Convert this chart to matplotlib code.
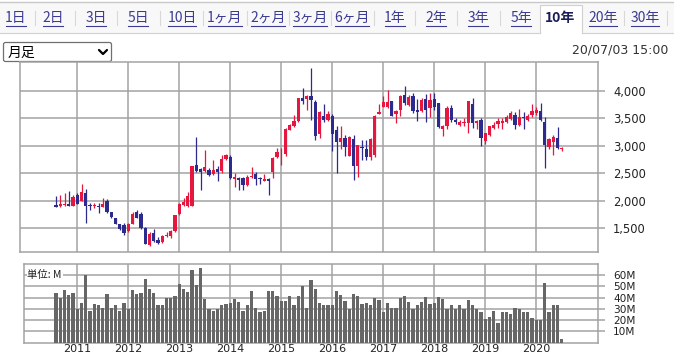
import numpy as np
import matplotlib
matplotlib.use("Agg")
import matplotlib.pyplot as plt
from matplotlib.patches import Rectangle, FancyBboxPatch

plt.rcParams['font.family'] = ['Noto Sans CJK JP', 'DejaVu Sans']

# 月足データ (2010/08 - 2020/07)
opens = [1925, 1896, 1915, 1945, 1910, 2097, 1988, 2146, 1925, 1895,
         1910, 1890, 1988, 1800, 1680, 1570, 1560, 1440, 1580, 1790,
         1750, 1500, 1185, 1410, 1280, 1240, 1350, 1350, 1440, 1750,
         1920, 1895, 1910, 2650, 2570, 2540, 2555, 2485, 2585, 2545,
         2760, 2800, 2400, 2410, 2415, 2290, 2430, 2480, 2415, 2360,
         2400, 2515, 2790, 2880, 2850, 3285, 3355, 3445, 3880, 3850,
         3915, 3805, 3220, 3540, 3475, 3540, 3285, 3065, 3135, 2820,
         3130, 2640, 2975, 2945, 2790, 2825, 3580, 3710, 3715, 3810,
         3575, 3650, 3930, 3740, 3905, 3645, 3630, 3855, 3690, 3860,
         3780, 3305, 3355, 3690, 3475, 3380, 3415, 3415, 3770, 3415,
         3475, 3080, 3205, 3325, 3400, 3415, 3430, 3490, 3570, 3375,
         3525, 3475, 3555, 3600, 3640, 3430, 2975, 3065, 3150, 2945]
highs = [2090, 2103, 2140, 2182, 2100, 2140, 2310, 2219, 1960, 1960,
         1960, 2050, 2030, 1800, 1690, 1575, 1590, 1600, 1790, 1825,
         1800, 1510, 1420, 1490, 1330, 1370, 1420, 1460, 1740, 1950,
         2050, 2150, 2640, 3160, 2600, 2930, 2600, 2750, 2630, 2840,
         2845, 2840, 2500, 2440, 2440, 2475, 2605, 2520, 2440, 2480,
         2410, 2790, 2965, 2960, 3330, 3400, 3560, 3880, 4061, 3930,
         4425, 3830, 3640, 3770, 3635, 3580, 3355, 3355, 3200, 3185,
         3205, 3020, 3110, 3110, 3140, 3560, 3770, 3910, 4025, 3815,
         3650, 3920, 4085, 3930, 3965, 3855, 3870, 3950, 3960, 3965,
         3790, 3380, 3720, 3750, 3510, 3480, 3510, 3825, 3870, 3470,
         3510, 3240, 3370, 3440, 3500, 3510, 3560, 3640, 3610, 3680,
         3620, 3580, 3760, 3700, 3780, 3530, 3150, 3190, 3345, 2970]
lows = [1880, 1884, 1905, 1895, 1900, 1940, 1985, 1586, 1825, 1860,
        1775, 1885, 1780, 1690, 1565, 1460, 1380, 1430, 1570, 1685,
        1490, 1200, 1170, 1250, 1210, 1230, 1340, 1320, 1430, 1740,
        1900, 1880, 1900, 2515, 2200, 2525, 2445, 2460, 2350, 2505,
        2740, 2400, 2250, 2190, 2190, 2260, 2410, 2290, 2300, 2350,
        2100, 2420, 2770, 2645, 2820, 3280, 3345, 3430, 3770, 3650,
        3470, 3100, 3140, 3430, 3460, 2900, 2505, 2940, 2810, 2810,
        2370, 2430, 2750, 2735, 2750, 2800, 3580, 3700, 3690, 3540,
        3410, 3550, 3750, 3730, 3600, 3445, 3620, 3430, 3525, 3660,
        3330, 3180, 3300, 3440, 3400, 3360, 3360, 3240, 3330, 3300,
        3000, 3030, 3180, 3300, 3330, 3300, 3410, 3470, 3300, 3360,
        3300, 3460, 3530, 3570, 3450, 2590, 2950, 2825, 2950, 2900]
closes = [1885, 1933, 1940, 1910, 2060, 1945, 2158, 1896, 1900, 1915,
          1890, 1945, 1787, 1695, 1570, 1483, 1410, 1580, 1763, 1690,
          1495, 1210, 1400, 1270, 1225, 1355, 1370, 1450, 1733, 1940,
          1980, 2080, 2625, 2545, 2520, 2605, 2475, 2565, 2515, 2760,
          2835, 2405, 2425, 2370, 2290, 2430, 2455, 2395, 2395, 2400,
          2360, 2780, 2890, 2895, 3315, 3380, 3460, 3870, 3810, 3915,
          3830, 3185, 3610, 3465, 3585, 3220, 3065, 3140, 2980, 3165,
          2625, 3020, 2960, 2790, 3130, 3550, 3620, 3800, 3800, 3540,
          3640, 3900, 3775, 3885, 3630, 3615, 3840, 3650, 3830, 3700,
          3335, 3370, 3690, 3465, 3440, 3430, 3440, 3810, 3415, 3460,
          3135, 3235, 3355, 3385, 3445, 3460, 3520, 3600, 3375, 3525,
          3505, 3550, 3630, 3660, 3475, 3020, 3130, 3165, 2955, 2965]
# 出来高 (M)
volumes = [44, 40, 47, 42, 44, 30, 35, 60, 28.5, 34.5,
           33, 31, 43.5, 31, 33.5, 28.5, 35.5, 30, 47, 43.5,
           44, 57, 48, 44, 33, 33, 40, 40, 41.5, 52,
           48, 45, 65, 51.5, 66, 39, 30, 28.5, 30, 33.5,
           34.5, 35.5, 39, 36.5, 28.5, 33.5, 46, 31, 27.5, 28.5,
           46, 46, 41.5, 37, 37, 41.5, 33.5, 41.5, 50.5, 31,
           56, 48, 35.5, 33, 33, 33.5, 46, 42.5, 37, 29.5,
           43.5, 41.5, 34.5, 35.5, 33.5, 40, 38, 27.5, 35.5, 31,
           31, 40, 41.5, 36.5, 30, 33, 36.5, 41, 34.5, 35.5,
           41, 39, 30, 33.5, 30, 33, 29.5, 38, 33, 30,
           27.5, 21, 22.5, 28.5, 17.5, 27.5, 27.5, 25, 31, 29.5,
           27.5, 27, 21.5, 20, 20, 53, 27.5, 33, 33.5, 3.3]

years = ['2011', '2012', '2013', '2014', '2015', '2016', '2017', '2018', '2019', '2020']
year_idx = [5, 17, 29, 41, 53, 65, 77, 89, 101, 113]

price_ticks = [1500, 2000, 2500, 3000, 3500, 4000]
price_labels = ['1,500', '2,000', '2,500', '3,000', '3,500', '4,000']
vol_ticks = [10, 20, 30, 40, 50, 60]
vol_labels = ['10M', '20M', '30M', '40M', '50M', '60M']

tabs = ['1日', '2日', '3日', '5日', '10日', '1ヶ月', '2ヶ月', '3ヶ月', '6ヶ月',
        '1年', '2年', '3年', '5年', '10年', '20年', '30年']
tab_x = [16, 53, 96, 138, 182, 225, 268, 310, 352, 395, 436, 478, 521, 560, 603, 645]
sep_x = [35, 75, 117, 160, 203, 247, 289, 331, 374, 415, 457, 500, 624, 667]

W, H = 674, 357
RED = '#e5173f'
BLUE = '#2c2a8c'
GRID = '#a3a3a3'

fig = plt.figure(figsize=(W / 100, H / 100), dpi=100)
fig.patch.set_facecolor('white')


def px_axes(x0, y0, x1, y1):
    return fig.add_axes([x0 / W, 1 - y1 / H, (x1 - x0) / W, (y1 - y0) / H])


# UI overlay (pixel coordinates)
ui = fig.add_axes([0, 0, 1, 1], zorder=0)
ui.set_xlim(0, W)
ui.set_ylim(H, 0)
ui.axis('off')

ui.add_patch(Rectangle((0, 2), W, 31, facecolor='#f8f8f8', edgecolor='none'))
ui.plot([0, W], [1.5, 1.5], color='#c8c8c8', lw=1)
ui.plot([0, 540], [33, 33], color='#d0d0d0', lw=0.8)
ui.plot([582, W], [33, 33], color='#d0d0d0', lw=0.8)
ui.add_patch(Rectangle((540, 5), 42, 29, facecolor='white', edgecolor='none'))
ui.plot([540, 540, 582, 582], [33, 5, 5, 33], color='#d0d0d0', lw=0.8)
for sx in sep_x:
    ui.plot([sx, sx], [11, 25], color='#d8d8d8', lw=0.8)

tab_texts = []
for lbl, tx in zip(tabs, tab_x):
    if lbl == '10年':
        ui.text(tx, 18, lbl, ha='center', va='center', fontsize=10,
                color='#1c1c5a', fontweight='bold')
    else:
        t = ui.text(tx, 18, lbl, ha='center', va='center', fontsize=10,
                    color='#3b3b94')
        tab_texts.append(t)

# dropdown
ui.add_patch(FancyBboxPatch((3.5, 42.5), 108, 19, boxstyle='round,pad=0,rounding_size=2',
                            facecolor='white', edgecolor='#6f6f6f', lw=0.9))
ui.text(8, 52.5, '月足', ha='left', va='center', fontsize=10, color='black')
ui.plot([99, 103, 107], [50, 54, 50], color='black', lw=1.6, solid_capstyle='round')
ui.text(668, 50, '20/07/03 15:00', ha='right', va='center', fontsize=9,
        color='#333333', family='DejaVu Sans')

# price chart
ax = px_axes(20, 62, 598, 252)
x = np.arange(len(opens))
ax.set_xlim(-(56 - 20) / 4.25, -(56 - 20) / 4.25 + 578 / 4.25)
ax.set_ylim(1063, 4529)
for i in x:
    o, h, l, c = opens[i], highs[i], lows[i], closes[i]
    col = RED if c >= o else BLUE
    ax.vlines(i, l, h, color=col, lw=0.9, zorder=3)
    hgt = max(abs(c - o), 14)
    bot = min(o, c) if abs(c - o) >= 14 else (o + c) / 2 - 7
    ax.bar(i, hgt, bottom=bot, width=0.8, color=col, zorder=4, linewidth=0)
ax.set_xticks(year_idx)
ax.set_xticklabels([])
ax.tick_params(axis='x', length=0)
ax.set_yticks(price_ticks)
ax.set_yticklabels(price_labels, family='DejaVu Sans')
ax.yaxis.tick_right()
ax.tick_params(axis='y', length=5, width=1.1, color=GRID, pad=6, labelsize=8.3,
               labelcolor='#222222')
ax.grid(True, color=GRID, lw=1.1)
ax.set_axisbelow(True)
for s in ax.spines.values():
    s.set_color(GRID)
    s.set_linewidth(1.1)

# volume chart
av = px_axes(24, 264, 598, 342.5)
av.set_xlim(-(56 - 24) / 4.25, -(56 - 24) / 4.25 + 574 / 4.25)
av.set_ylim(0, 70)
av.bar(x, volumes, width=0.8, color='#666666', linewidth=0, zorder=3)
av.set_xticks(year_idx)
av.set_xticklabels(years, family='DejaVu Sans')
av.tick_params(axis='x', length=0, pad=1, labelsize=8, labelcolor='#222222')
av.set_yticks(vol_ticks)
av.set_yticklabels(vol_labels, family='DejaVu Sans')
av.yaxis.tick_right()
av.tick_params(axis='y', length=5, width=1.1, color=GRID, pad=6, labelsize=7.6,
               labelcolor='#222222')
av.grid(True, color=GRID, lw=1.1)
av.set_axisbelow(True)
for s in av.spines.values():
    s.set_color(GRID)
    s.set_linewidth(1.1)
av.text(0.006, 0.93, '単位: M', transform=av.transAxes, ha='left', va='top',
        fontsize=7.5, color='#222222', zorder=5,
        bbox=dict(facecolor='white', edgecolor='none', pad=0.5))

# underline the tab links
fig.canvas.draw()
r = fig.canvas.get_renderer()
for t in tab_texts:
    bb = t.get_window_extent(renderer=r)
    ui.plot([bb.x0 + 1, bb.x1 - 1], [25.5, 25.5], color='#3b3b94', lw=0.8)

fig.savefig('out.png', dpi=100)
